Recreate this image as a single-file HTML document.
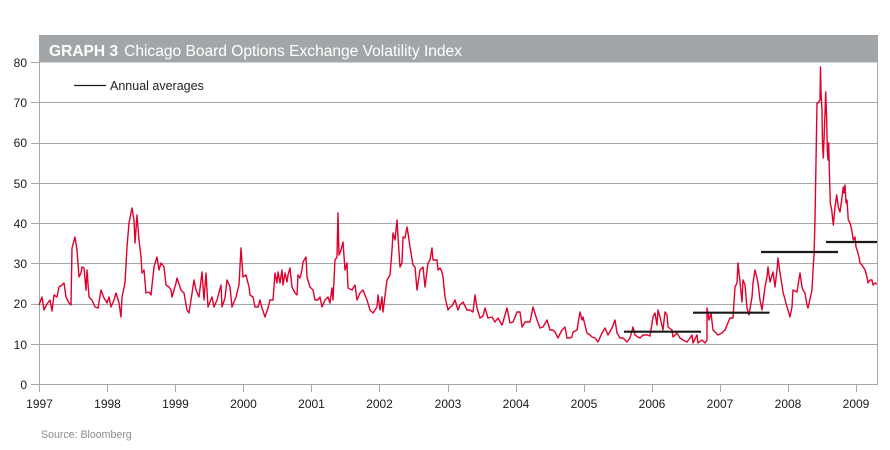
<!DOCTYPE html>
<html>
<head>
<meta charset="utf-8">
<style>
  html, body { margin: 0; padding: 0; background: #ffffff; }
  svg { display: block; }
  text { font-family: "Liberation Sans", "DejaVu Sans", sans-serif; }
</style>
</head>
<body>
<svg width="890" height="450" viewBox="0 0 890 450" xmlns="http://www.w3.org/2000/svg">
  <rect x="0" y="0" width="890" height="450" fill="#ffffff"/>

  <!-- Title bar -->
  <rect x="39" y="35" width="839" height="27.5" fill="#a2a6a8"/>
  <text x="49" y="56" font-size="15.5" fill="#ffffff" textLength="413" lengthAdjust="spacingAndGlyphs"><tspan font-weight="bold">GRAPH 3</tspan><tspan dx="6">Chicago Board Options Exchange Volatility Index</tspan></text>

  <!-- Gridlines -->
  <g stroke="#a8a8a8" stroke-width="1" shape-rendering="crispEdges">
    <line x1="39" y1="344.5" x2="877" y2="344.5"/>
    <line x1="39" y1="304.5" x2="877" y2="304.5"/>
    <line x1="39" y1="263.5" x2="877" y2="263.5"/>
    <line x1="39" y1="223.5" x2="877" y2="223.5"/>
    <line x1="39" y1="183.5" x2="877" y2="183.5"/>
    <line x1="39" y1="143.5" x2="877" y2="143.5"/>
    <line x1="39" y1="102.5" x2="877" y2="102.5"/>
    <!-- axes / frame -->
    <line x1="39.5" y1="62" x2="39.5" y2="385"/>
    <line x1="877.5" y1="62" x2="877.5" y2="385"/>
    <line x1="39" y1="384.5" x2="878" y2="384.5"/>
    <!-- y ticks -->
    <line x1="31" y1="384.5" x2="39" y2="384.5"/>
    <line x1="31" y1="344.5" x2="39" y2="344.5"/>
    <line x1="31" y1="304.5" x2="39" y2="304.5"/>
    <line x1="31" y1="263.5" x2="39" y2="263.5"/>
    <line x1="31" y1="223.5" x2="39" y2="223.5"/>
    <line x1="31" y1="183.5" x2="39" y2="183.5"/>
    <line x1="31" y1="143.5" x2="39" y2="143.5"/>
    <line x1="31" y1="102.5" x2="39" y2="102.5"/>
    <line x1="31" y1="62.5" x2="39" y2="62.5"/>
    <!-- x ticks -->
    <line x1="39.5" y1="384" x2="39.5" y2="392"/>
    <line x1="107.5" y1="384" x2="107.5" y2="392"/>
    <line x1="175.5" y1="384" x2="175.5" y2="392"/>
    <line x1="243.5" y1="384" x2="243.5" y2="392"/>
    <line x1="311.5" y1="384" x2="311.5" y2="392"/>
    <line x1="379.5" y1="384" x2="379.5" y2="392"/>
    <line x1="448.5" y1="384" x2="448.5" y2="392"/>
    <line x1="516.5" y1="384" x2="516.5" y2="392"/>
    <line x1="584.5" y1="384" x2="584.5" y2="392"/>
    <line x1="652.5" y1="384" x2="652.5" y2="392"/>
    <line x1="720.5" y1="384" x2="720.5" y2="392"/>
    <line x1="788.5" y1="384" x2="788.5" y2="392"/>
    <line x1="856.5" y1="384" x2="856.5" y2="392"/>
  </g>

  <!-- Y labels -->
  <g font-size="12" fill="#1a1a1a" text-anchor="end">
    <text x="27" y="389">0</text>
    <text x="27" y="349">10</text>
    <text x="27" y="308">20</text>
    <text x="27" y="268">30</text>
    <text x="27" y="228">40</text>
    <text x="27" y="188">50</text>
    <text x="27" y="147">60</text>
    <text x="27" y="107">70</text>
    <text x="27" y="67">80</text>
  </g>

  <!-- X labels -->
  <g font-size="12" fill="#1a1a1a" text-anchor="middle">
    <text x="39.5" y="408">1997</text>
    <text x="107.5" y="408">1998</text>
    <text x="175.5" y="408">1999</text>
    <text x="243.5" y="408">2000</text>
    <text x="311.5" y="408">2001</text>
    <text x="379.5" y="408">2002</text>
    <text x="448" y="408">2003</text>
    <text x="516" y="408">2004</text>
    <text x="584" y="408">2005</text>
    <text x="652" y="408">2006</text>
    <text x="720" y="408">2007</text>
    <text x="788" y="408">2008</text>
    <text x="856" y="408">2009</text>
  </g>

  <!-- Legend -->
  <line x1="74" y1="85.5" x2="106" y2="85.5" stroke="#1a1a1a" stroke-width="1.2"/>
  <text x="110" y="90" font-size="12.5" fill="#222222">Annual averages</text>

  <!-- VIX series -->
  <polyline fill="none" stroke="#e0002b" stroke-width="1.4" stroke-linejoin="round" points="
39,305 42,297 44,310 47,304 50,300 52,311 54,295 57,297 59,287 62,285 64,283 66,297 69,303 71,305 72,248 75,237 77,250 79,277 81,273 82,267 84,268 86,290 87,270 89,297 92,300 95,307 98,308 101,290 104,298 106,301 107,303 109,297 111,307 114,300 116,293 119,303 121,317 122,297 125,283 127,247 129,223 132,208 134,220 135,243 137,215 139,240 141,257 142,273 144,270 146,293 149,292 151,295 154,267 157,257 159,270 161,263 164,267 166,285 169,287 171,290 172,297 176,283 177,278 181,290 184,293 187,310 189,313 191,300 194,280 196,290 199,297 202,272 204,300 206,273 208,307 212,297 214,307 217,300 221,285 222,307 225,298 227,280 230,287 232,307 236,297 239,285 241,248 243,277 246,275 249,287
250,295 253,297 255,307 258,307 260,300 262,308 265,317 268,308 270,300 273,300 275,273 277,283 278,272 280,283 282,270 283,285 285,273 287,282 288,275 290,268 292,287 295,293 297,295 298,275 300,278 302,270 303,262 306,257 307,277 310,287 313,290 315,300 318,300 320,297 322,307 325,300 328,297 330,303 332,288 333,300 335,260 337,257 338,213 339,255 341,250 343,242 345,270 347,263 348,288 352,290 355,285 357,300 360,293 363,290 367,300 370,310 373,313 377,307 378,295 380,310 382,297 383,312 387,280 390,275 392,250 393,233 395,240 397,220 398,237 400,267 402,263 403,237 405,238 407,227 408,233 410,247 413,265 415,267 417,290 420,270 423,267 425,287 428,263 430,260 432,248 433,260 437,260 438,270 440,268 442,272 443,277 445,297 448,310
450,307 452,306 455,300 458,310 460,305 463,302 467,310 470,310 473,312 475,295 477,308 480,318 483,316 485,308 488,318 492,317 495,322 498,318 502,325 503,322 507,308 510,323 513,322 517,312 520,312 522,327 525,322 527,322 530,322 533,307 537,320 540,328 543,327 547,320 550,330 553,330 555,332 558,338 562,330 565,327 567,338 570,338 572,337 573,332 577,330 580,312 582,320 583,317 587,333 590,335 592,337 595,338 598,342 602,333 605,328 608,335 612,328 615,320 617,333 620,338 623,338 627,342 630,338 633,327 635,335 638,337 640,338 643,335 647,335 650,336
653,317 655,313 657,325 658,310 660,317 663,330 665,312 667,315 668,327 672,330 673,337 677,333 680,338 683,340 687,342 690,338 692,335 693,343 697,335 698,343 702,340 705,343 707,340 707,308 709,320 711,313 713,330 715,332 718,335 722,333 725,330 727,325 730,318 733,318 735,287 737,283 738,263 740,282 742,302 743,280 745,285 747,308 749,315 752,297 753,283 755,270 757,278 758,283 760,300 762,310 765,287 767,277 768,267 770,282 773,272 775,287 777,270 778,258 780,273 782,285 783,292 787,307 788,310 790,317 792,307 793,290 797,292 800,273 802,287 803,290 805,293 807,305 808,308 812,290 813,270 814,255 815,220 817,103 818,103 820,100 820.5,67 821,92 822,110 822.5,143 823.3,158 824,140 825,113 825.7,92 826.7,120 827.3,150 828,160 828.7,143 829.3,170 830.3,203 831.7,210 833.3,225 835,207 836.7,195 838.3,207 840,212 841.7,200 843.3,187 844,193 845,185 846,203 847,200 848.3,220 850,223 851.7,230 853.3,240 855,237 856,247 857.7,252 859,257 860,263 862,265 865,270 867,277 868,283 870,280 872,280 873,285 875,283 877,284"/>

  <!-- Annual average bars -->
  <g stroke="#1a1a1a" stroke-width="2.2">
    <line x1="624" y1="331.7" x2="701" y2="331.7"/>
    <line x1="693" y1="312.7" x2="769.5" y2="312.7"/>
    <line x1="761" y1="252" x2="838" y2="252"/>
    <line x1="826" y1="242" x2="877" y2="242"/>
  </g>

  <!-- Source -->
  <text x="41" y="438" font-size="10.6" fill="#8c8c8c">Source: Bloomberg</text>
</svg>
</body>
</html>
